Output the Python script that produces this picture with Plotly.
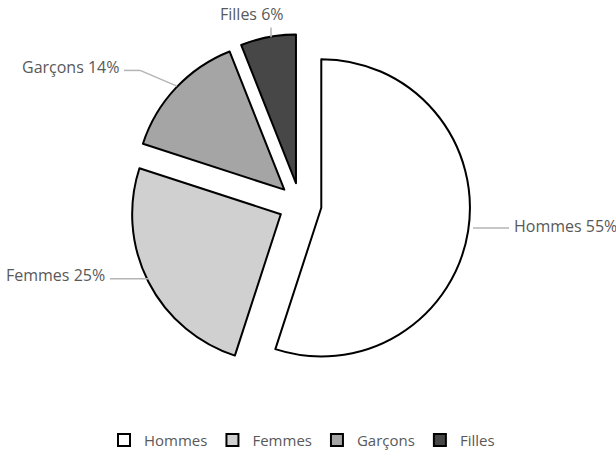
import plotly.graph_objects as go

# data
labels = ["Hommes", "Femmes", "Garçons", "Filles"]
values = [55, 25, 14, 6]
colors = ["#ffffff", "#d0d0d0", "#a5a5a5", "#474747"]

W, H = 616, 457

def px(x, y):
    # pixel -> paper coords (margins are zero)
    return x / W, 1 - y / H

fig = go.Figure(go.Pie(
    labels=labels,
    values=values,
    sort=False,
    direction="clockwise",
    rotation=0,
    pull=0.145,
    textinfo="none",
    hoverinfo="label+percent",
    marker=dict(colors=colors, line=dict(color="#000000", width=2)),
    domain=dict(x=[0, 600 / W], y=[74 / H, 422 / H]),
))

label_font = dict(family="Open Sans, Lato, sans-serif", size=16, color="#595959")
line_col = "#b4b4b4"

# outside labels: (text, text anchor pixel, xanchor, leader line points)
outside = [
    ("Hommes 55%", (512, 231), "left", [(509, 233), (473, 233)]),
    ("Femmes 25%", (107, 281), "right", [(110, 285), (149, 285)]),
    ("Garçons 14%", (121, 68), "right", [(124, 72), (140, 72), (177, 88)]),
    ("Filles 6%", (252, 14), "center", [(271, 28), (271, 38)]),
]
for lab, (tx, ty), xa, pts in outside:
    x, y = px(tx, ty)
    fig.add_annotation(x=x, y=y, xref="paper", yref="paper", text=lab,
                       xanchor=xa, yanchor="middle", showarrow=False, font=label_font)
    for (x0, y0), (x1, y1) in zip(pts[:-1], pts[1:]):
        a0, b0 = px(x0, y0)
        a1, b1 = px(x1, y1)
        fig.add_shape(type="line", xref="paper", yref="paper", x0=a0, y0=b0, x1=a1, y1=b1,
                      line=dict(color=line_col, width=1.5))

fig.update_layout(
    width=W, height=H,
    margin=dict(l=0, r=0, t=0, b=0),
    paper_bgcolor="white",
    plot_bgcolor="white",
    showlegend=True,
    legend=dict(orientation="h", x=0.5 - 6 / W, xanchor="center", y=1 - 450 / H, yanchor="middle",
                font=dict(family="Open Sans, Lato, sans-serif", size=15, color="#595959"),
                itemclick=False),
)

# drop the default body margin so the figure sits at the window's top-left corner
fig.write_html("out.html", config={"displayModeBar": False},
               post_script="document.body.style.margin='0';")
